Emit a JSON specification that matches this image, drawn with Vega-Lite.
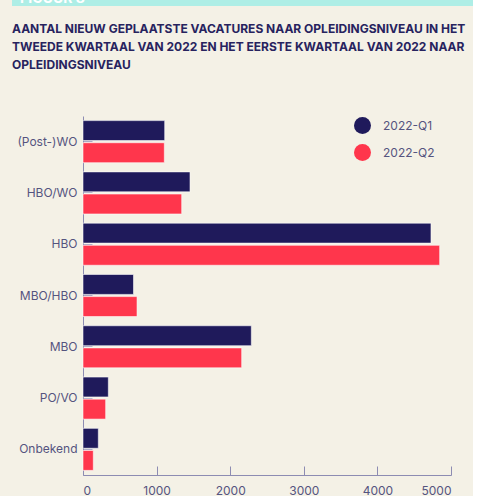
{
  "$schema": "https://vega.github.io/schema/vega-lite/v6.json",
  "background": "#f4f1e6",
  "padding": {"left": 12, "top": -14, "right": 0, "bottom": 0},
  "config": {
    "view": {"stroke": null},
    "font": "Inter"
  },
  "columns": 1,
  "align": "none",
  "spacing": 17,
  "concat": [
    {
      "width": 368,
      "height": 20,
      "data": {"values": [{"label": "FIGUUR 8", "start": -71, "end": 390, "tekst": -63}]},
      "encoding": {
        "y": {"datum": 0, "type": "quantitative", "scale": {"domain": [0, 1]}, "axis": null}
      },
      "layer": [
        {
          "mark": {"type": "rect", "color": "#aeeee6"},
          "encoding": {
            "x": {"field": "start", "type": "quantitative", "scale": {"domain": [0, 368]}, "axis": null},
            "x2": {"field": "end"},
            "y2": {"datum": 1}
          }
        },
        {
          "mark": {"type": "text", "color": "#ffffff", "fontWeight": "bold", "fontSize": 14, "align": "left", "baseline": "alphabetic", "dy": -3},
          "encoding": {
            "x": {"field": "tekst", "type": "quantitative", "scale": {"domain": [0, 368]}, "axis": null},
            "text": {"field": "label"}
          }
        }
      ]
    },
    {
      "width": 368,
      "height": 359,
      "title": {
        "text": [
          "AANTAL NIEUW GEPLAATSTE VACATURES NAAR OPLEIDINGSNIVEAU IN HET",
          "TWEEDE KWARTAAL VAN 2022 EN HET EERSTE KWARTAAL VAN 2022 NAAR",
          "OPLEIDINGSNIVEAU"
        ],
        "anchor": "start",
        "frame": "group",
        "dx": -71,
        "fontSize": 12,
        "lineHeight": 18,
        "fontWeight": "bold",
        "color": "#27235e",
        "offset": 44
      },
      "data": {
        "values": [
          {"niveau": "(Post-)WO", "kwartaal": "2022-Q1", "aantal": 1110},
          {"niveau": "(Post-)WO", "kwartaal": "2022-Q2", "aantal": 1105},
          {"niveau": "HBO/WO", "kwartaal": "2022-Q1", "aantal": 1454},
          {"niveau": "HBO/WO", "kwartaal": "2022-Q2", "aantal": 1341},
          {"niveau": "HBO", "kwartaal": "2022-Q1", "aantal": 4728},
          {"niveau": "HBO", "kwartaal": "2022-Q2", "aantal": 4846},
          {"niveau": "MBO/HBO", "kwartaal": "2022-Q1", "aantal": 686},
          {"niveau": "MBO/HBO", "kwartaal": "2022-Q2", "aantal": 734},
          {"niveau": "MBO", "kwartaal": "2022-Q1", "aantal": 2287},
          {"niveau": "MBO", "kwartaal": "2022-Q2", "aantal": 2156},
          {"niveau": "PO/VO", "kwartaal": "2022-Q1", "aantal": 344},
          {"niveau": "PO/VO", "kwartaal": "2022-Q2", "aantal": 308},
          {"niveau": "Onbekend", "kwartaal": "2022-Q1", "aantal": 208},
          {"niveau": "Onbekend", "kwartaal": "2022-Q2", "aantal": 140}
        ]
      },
      "mark": {"type": "bar", "stroke": "#ffffff", "strokeWidth": 0.8, "strokeOpacity": 0.7},
      "encoding": {
        "y": {
          "field": "niveau",
          "type": "nominal",
          "sort": null,
          "scale": {"paddingInner": 0.18, "paddingOuter": 0.09},
          "axis": {
            "title": null,
            "domainColor": "#8d8cb2",
            "tickColor": "#a9a8c4",
            "tickSize": -9,
            "labelPadding": 15,
            "labelFontSize": 12,
            "labelColor": "#55547f"
          }
        },
        "yOffset": {
          "field": "kwartaal",
          "type": "nominal",
          "scale": {"paddingInner": 0.1}
        },
        "x": {
          "field": "aantal",
          "type": "quantitative",
          "scale": {"domain": [0, 5000]},
          "axis": {
            "title": null,
            "grid": false,
            "values": [0, 1000, 2000, 3000, 4000, 5000],
            "format": "d",
            "domainColor": "#8d8cb2",
            "tickColor": "#8d8cb2",
            "tickSize": -9,
            "labelPadding": 19,
            "labelFontSize": 12,
            "labelColor": "#55547f"
          }
        },
        "color": {
          "field": "kwartaal",
          "type": "nominal",
          "scale": {"domain": ["2022-Q1", "2022-Q2"], "range": ["#1f1a5b", "#ff364c"]},
          "legend": {
            "title": null,
            "orient": "none",
            "legendX": 271,
            "legendY": 131,
            "padding": 0,
            "symbolType": "circle",
            "symbolSize": 289,
            "symbolOpacity": 1,
            "symbolStrokeWidth": 0,
            "rowPadding": 10,
            "labelOffset": 12,
            "labelFontSize": 12,
            "labelColor": "#55547f"
          }
        }
      }
    }
  ],
  "resolve": {"scale": {"x": "independent", "y": "independent"}}
}
